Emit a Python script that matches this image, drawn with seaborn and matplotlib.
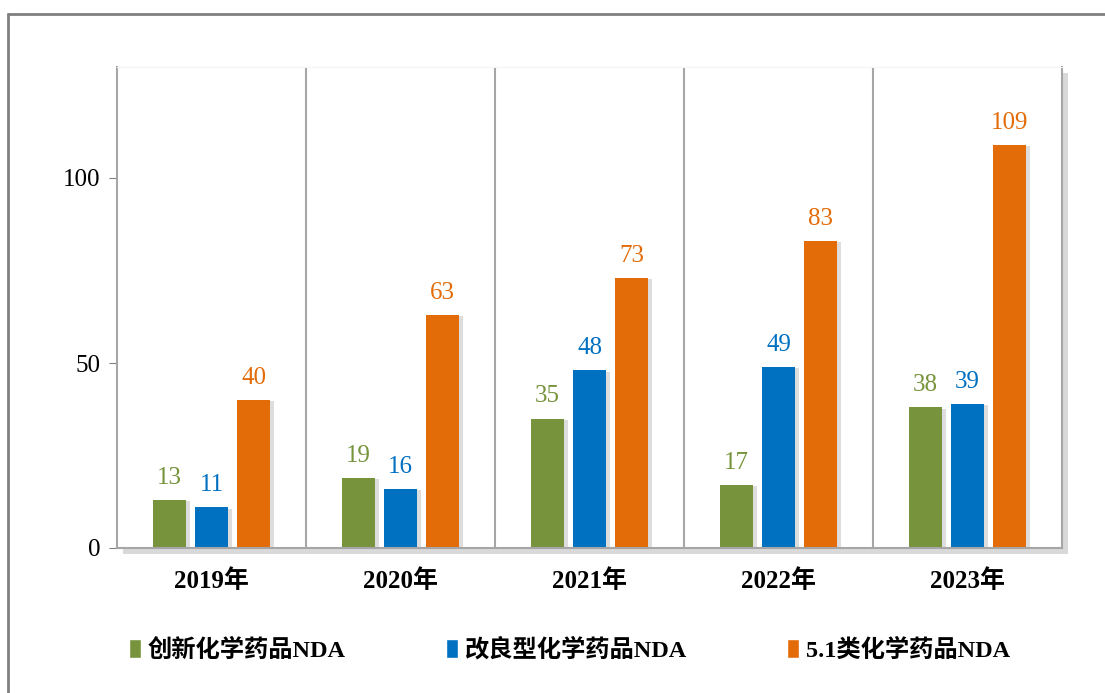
import pandas as pd
import seaborn as sns
import matplotlib.pyplot as plt
import matplotlib.patheffects as pe
from matplotlib.patches import Patch
from matplotlib.lines import Line2D

years = ["2019年", "2020年", "2021年", "2022年", "2023年"]
series = ["创新化学药品NDA", "改良型化学药品NDA", "5.1类化学药品NDA"]
innovative = [13, 19, 35, 17, 38]
improved = [11, 16, 48, 49, 39]
class51 = [40, 63, 73, 83, 109]
colors = ["#77933C", "#0070C0", "#E36C09"]

df = pd.DataFrame({
    "year": years * 3,
    "type": [series[0]] * 5 + [series[1]] * 5 + [series[2]] * 5,
    "value": innovative + improved + class51,
})

sns.set_style("white")
plt.rcParams["font.family"] = ["Liberation Serif", "Noto Sans CJK SC"]
plt.rcParams["text.color"] = "black"
plt.rcParams["xtick.color"] = "black"
plt.rcParams["ytick.color"] = "black"

fig = plt.figure(figsize=(11.05, 6.93), dpi=100)
ax = fig.add_axes([117 / 1105, 1 - 548 / 693, 945 / 1105, 481 / 693])

sns.barplot(data=df, x="year", y="value", hue="type", palette=colors,
            width=0.667, gap=0.21, legend=False, ax=ax, saturation=1,
            linewidth=0)

# bar shadows + value labels
for i, cont in enumerate(ax.containers):
    for bar in cont:
        bar.set_path_effects([pe.SimplePatchShadow(offset=(3, -1), alpha=0.18, shadow_rgbFace="#444444"),
                              pe.Normal()])
    ax.bar_label(cont, padding=8, color=colors[i], fontsize=18)

ax.set_xlim(-0.5, 4.5)
ax.set_ylim(0, 130)
ax.set_yticks([0, 50, 100])
ax.set_xlabel("")
ax.set_ylabel("")
ax.tick_params(axis="y", labelsize=18, left=True, length=6, color="#808080", pad=6, labelcolor="black")
ax.tick_params(axis="x", labelsize=18, bottom=False, pad=12, labelcolor="black")
for lbl in ax.get_xticklabels():
    lbl.set_fontweight("bold")

for x in [0.5, 1.5, 2.5, 3.5]:
    ax.axvline(x, color="#A6A6A6", lw=1.5, zorder=0)
for s in ["left", "right", "bottom"]:
    ax.spines[s].set_color("#A6A6A6")
    ax.spines[s].set_linewidth(1.5)
ax.spines["top"].set_color("#F4F4F4")
ax.patch.set_path_effects([pe.SimplePatchShadow(offset=(4, -4), alpha=0.22, shadow_rgbFace="#555555"),
                           pe.Normal()])

# outer border
fig.add_artist(Line2D([8 / 1105, 8 / 1105], [0, 1 - 14 / 693], transform=fig.transFigure,
                      color="#808080", lw=2))
fig.add_artist(Line2D([8 / 1105, 1], [1 - 14 / 693, 1 - 14 / 693], transform=fig.transFigure,
                      color="#808080", lw=2))

handles = [Patch(facecolor=c, label=s) for c, s in zip(colors, series)]
fig.legend(handles=handles, loc="center left", bbox_to_anchor=(107 / 1105, 1 - 650 / 693),
           ncol=3, frameon=False, prop={"size": 17.5, "weight": "bold"},
           handlelength=0.5, handleheight=0.8, handletextpad=0.25, columnspacing=4.15)

fig.savefig("out.png", dpi=100)
